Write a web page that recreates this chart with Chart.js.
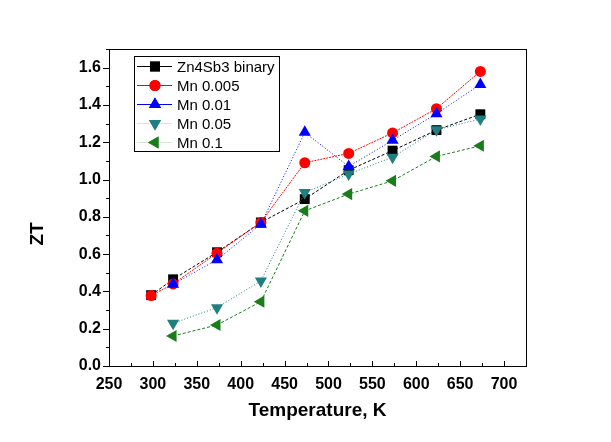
<!DOCTYPE html>
<html>
<head>
<meta charset="utf-8">
<script src="https://cdn.jsdelivr.net/npm/chart.js@4.4.1/dist/chart.umd.min.js"></script>
<style>
  body { margin: 0; background: #fff; }
  #wrap { width: 611px; height: 442px; }
</style>
</head>
<body>
<div id="wrap"><canvas id="grafica" width="611" height="442"></canvas></div>
<script>
// datos
const temperaturas = [298, 323, 373, 423, 473, 523, 573, 623, 673];
const zn4sb3 = [0.38, 0.465, 0.61, 0.77, 0.895, 1.05, 1.155, 1.265, 1.35];
const mn0005 = [0.378, 0.44, 0.605, 0.77, 1.09, 1.14, 1.25, 1.38, 1.58];
const mn001 = [null, 0.438, 0.57, 0.76, 1.253, 1.07, 1.21, 1.353, 1.51];
const mn005 = [null, 0.229, 0.313, 0.456, 0.93, 1.029, 1.12, 1.267, 1.324];
const mn01 = [null, 0.161, 0.22, 0.345, 0.832, 0.922, 0.993, 1.124, 1.181];

const etiquetasSerie = ['Zn4Sb3 binary', 'Mn 0.005', 'Mn 0.01', 'Mn 0.05', 'Mn 0.1'];
const ticksX = [250, 300, 350, 400, 450, 500, 550, 600, 650, 700];
const ticksY = [0, 0.2, 0.4, 0.6, 0.8, 1.0, 1.2, 1.4, 1.6];

const FUENTE = "'Liberation Sans', Arial, sans-serif";

function puntos(valores) {
    return temperaturas
        .map((t, i) => ({ x: t, y: valores[i] }))
        .filter(p => p.y !== null);
}

// estilo de cada serie
const estilos = [
    { color: '#000000', forma: 'rect', radio: 7, rot: 0, dash: [3, 2], leyenda: '#000000' },
    { color: '#ff0000', forma: 'circle', radio: 5.5, rot: 0, dash: [2, 1], leyenda: '#ff0000' },
    { color: '#0000ff', forma: 'triangle', radio: 7, rot: 0, dash: [1, 2], leyenda: '#0000ff' },
    { color: '#1f7f80', forma: 'triangle', radio: 7, rot: 180, dash: [1, 2], leyenda: '#d4e8e8' },
    { color: '#1a7d1a', forma: 'triangle', radio: 7, rot: 270, dash: [3, 2], leyenda: '#d4e8d4' }
];

const series = [zn4sb3, mn0005, mn001, mn005, mn01];

const datasets = series.map((valores, i) => ({
    label: etiquetasSerie[i],
    data: puntos(valores),
    borderColor: estilos[i].color,
    backgroundColor: estilos[i].color,
    borderWidth: 1,
    borderDash: estilos[i].dash,
    pointStyle: estilos[i].forma,
    pointRadius: estilos[i].radio,
    pointRotation: estilos[i].rot,
    pointBorderWidth: 0,
    pointBackgroundColor: estilos[i].color,
    tension: 0,
    order: series.length - i
}));

// marco, ticks menores/mayores, titulos y leyenda
const decoracion = {
    id: 'decoracion',
    afterDraw(chart) {
        const { ctx, chartArea: a } = chart;
        const sx = chart.scales.x;
        const sy = chart.scales.y;
        ctx.save();
        ctx.strokeStyle = '#000';
        ctx.lineWidth = 1;
        ctx.setLineDash([]);
        ctx.strokeRect(a.left + 0.5, a.top + 0.5, a.right - a.left, a.bottom - a.top);

        // ticks eje x hacia adentro
        ctx.beginPath();
        for (let v = 250; v <= 725; v += 25) {
            const px = Math.round(sx.getPixelForValue(v)) + 0.5;
            const largo = v % 50 === 0 ? 5 : 3;
            ctx.moveTo(px, a.bottom);
            ctx.lineTo(px, a.bottom - largo);
        }
        // ticks eje y hacia afuera
        for (let k = 0; k <= 17; k++) {
            const py = Math.round(sy.getPixelForValue(k / 10)) + 0.5;
            const largo = k % 2 === 0 ? 6 : 3;
            ctx.moveTo(a.left, py);
            ctx.lineTo(a.left - largo, py);
        }
        ctx.stroke();

        // titulos de ejes
        ctx.fillStyle = '#000';
        ctx.font = 'bold 19px ' + FUENTE;
        ctx.textAlign = 'center';
        ctx.textBaseline = 'middle';
        ctx.fillText('Temperature, K', (a.left + a.right) / 2, 411);
        ctx.save();
        ctx.translate(38, 234);
        ctx.rotate(-Math.PI / 2);
        ctx.fillText('ZT', 0, 0);
        ctx.restore();

        // leyenda
        const caja = { x: 134, y: 56, w: 145, h: 95 };
        ctx.fillStyle = '#fff';
        ctx.fillRect(caja.x, caja.y, caja.w, caja.h);
        ctx.strokeRect(caja.x + 0.5, caja.y + 0.5, caja.w, caja.h);
        ctx.font = '15px ' + FUENTE;
        ctx.textAlign = 'left';
        etiquetasSerie.forEach((txt, i) => {
            const yy = 66.5 + i * 19;
            const e = estilos[i];
            ctx.strokeStyle = e.leyenda;
            ctx.beginPath();
            ctx.moveTo(137, yy);
            ctx.lineTo(172, yy);
            ctx.stroke();
            ctx.fillStyle = e.color;
            Chart.helpers.drawPoint(ctx, { pointStyle: e.forma, radius: e.radio, rotation: e.rot, borderWidth: 0 }, 155, yy);
            ctx.fill();
            ctx.fillStyle = '#000';
            ctx.fillText(txt, 177, yy + 1);
        });
        ctx.restore();
    }
};

new Chart(document.getElementById('grafica'), {
    type: 'line',
    data: { datasets },
    options: {
        responsive: false,
        animation: false,
        layout: { padding: { left: 0, top: 49, right: 85, bottom: 0 } },
        plugins: { legend: { display: false }, tooltip: { enabled: false } },
        scales: {
            x: {
                type: 'linear',
                min: 250,
                max: 725,
                afterBuildTicks: s => { s.ticks = ticksX.map(v => ({ value: v })); },
                afterFit: s => { s.height = 76; },
                grid: { display: false, drawTicks: false },
                border: { display: false },
                ticks: {
                    color: '#000',
                    padding: 9,
                    maxRotation: 0,
                    autoSkip: false,
                    font: { family: FUENTE, size: 16, weight: 'bold' },
                    callback: v => String(v)
                }
            },
            y: {
                type: 'linear',
                min: 0,
                max: 1.7,
                afterBuildTicks: s => { s.ticks = ticksY.map(v => ({ value: v })); },
                afterFit: s => { s.width = 109; },
                grid: { display: false, drawTicks: false },
                border: { display: false },
                ticks: {
                    color: '#000',
                    padding: 8,
                    autoSkip: false,
                    font: { family: FUENTE, size: 16, weight: 'bold' },
                    callback: v => Number(v).toFixed(1)
                }
            }
        }
    },
    plugins: [decoracion]
});
</script>
</body>
</html>
